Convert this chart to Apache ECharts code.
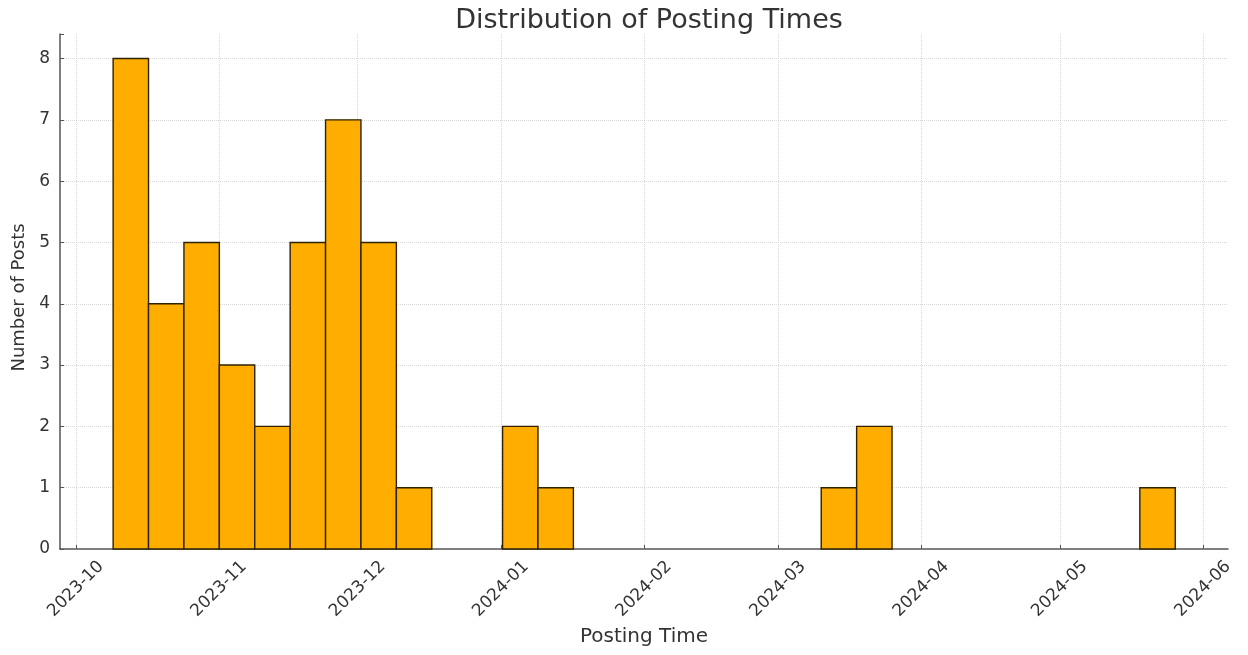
<!DOCTYPE html>
<html>
<head>
<meta charset="utf-8">
<script src="https://cdn.jsdelivr.net/npm/echarts@6/dist/echarts.min.js"></script>
<style>html,body{margin:0;padding:0;background:#fff;}#chart{width:1248px;height:655px;}</style>
</head>
<body>
<div id="chart"></div>
<script>
// Histogram of posting times: 30 equal-width bins between first and last post
var histStart = '2023-10-09 02:00';
var histEnd = '2024-05-26 00:00';
var counts = [8, 4, 5, 3, 2, 5, 7, 5, 1, 0, 0, 2, 1, 0, 0, 0, 0, 0, 0, 0, 1, 2, 0, 0, 0, 0, 0, 0, 0, 1];
var axisMin = '2023-09-27 14:00';
var axisMax = '2024-06-06 10:00';
var yTicks = [0, 1, 2, 3, 4, 5, 6, 7, 8];

var t0 = echarts.time.parse(histStart).getTime();
var t1 = echarts.time.parse(histEnd).getTime();
var binW = (t1 - t0) / counts.length;
var data = counts.map(function (c, i) { return [t0 + i * binW, t0 + (i + 1) * binW, c]; });

var chart = echarts.init(document.getElementById('chart'));
var font = 'DejaVu Sans';
chart.setOption({
  animation: false,
  title: {
    text: 'Distribution of Posting Times', left: 644, top: 2, textAlign: 'center',
    textStyle: { fontFamily: font, fontSize: 27, fontWeight: 'normal', color: '#333' }
  },
  grid: { left: 60, right: 20, top: 34, bottom: 106, containLabel: false, outerBoundsMode: 'none' },
  xAxis: {
    type: 'time',
    min: echarts.time.parse(axisMin).getTime(),
    max: echarts.time.parse(axisMax).getTime(),
    name: 'Posting Time', nameLocation: 'middle', nameGap: 78,
    nameTextStyle: { fontFamily: font, fontSize: 20, color: '#333' },
    axisLine: { lineStyle: { color: '#555', width: 1.5 } },
    axisTick: { show: true, inside: true, length: 4, lineStyle: { color: '#555' } },
    minorTick: { show: false },
    axisLabel: {
      rotate: 45, fontFamily: font, fontSize: 17, color: '#333', margin: 40,
      align: 'center', verticalAlign: 'middle',
      formatter: function (v) { return echarts.time.format(v, '{yyyy}-{MM}'); },
      showMinLabel: false, showMaxLabel: false
    },
    splitLine: { show: true, showMinLine: false, showMaxLine: false, lineStyle: { color: '#d8d8d8', type: 'dotted', width: 1 } }
  },
  yAxis: {
    type: 'value', min: 0, max: 8.4, interval: 1,
    name: 'Number of Posts', nameLocation: 'middle', nameGap: 31,
    nameTextStyle: { fontFamily: font, fontSize: 18, color: '#333', padding: [0, 12, 0, 0] },
    axisLine: { show: true, lineStyle: { color: '#555', width: 1.5 } },
    axisTick: { show: true, inside: true, length: 4, lineStyle: { color: '#555' } },
    axisLabel: {
      fontFamily: font, fontSize: 17, color: '#333', margin: 10,
      formatter: function (v) { return yTicks.indexOf(v) >= 0 ? String(v) : ''; }
    },
    splitLine: { show: true, showMinLine: false, showMaxLine: false, lineStyle: { color: '#d8d8d8', type: 'dotted', width: 1 } }
  },
  series: [{
    type: 'custom',
    data: data,
    encode: { x: [0, 1], y: 2 },
    renderItem: function (params, api) {
      if (api.value(2) <= 0) return null;
      var p0 = api.coord([api.value(0), 0]);
      var p1 = api.coord([api.value(1), api.value(2)]);
      return {
        type: 'rect',
        shape: { x: p0[0], y: p1[1], width: p1[0] - p0[0], height: p0[1] - p1[1] },
        style: { fill: '#FFAE00', stroke: '#2e2200', lineWidth: 1.4 }
      };
    }
  }]
});
</script>
</body>
</html>
